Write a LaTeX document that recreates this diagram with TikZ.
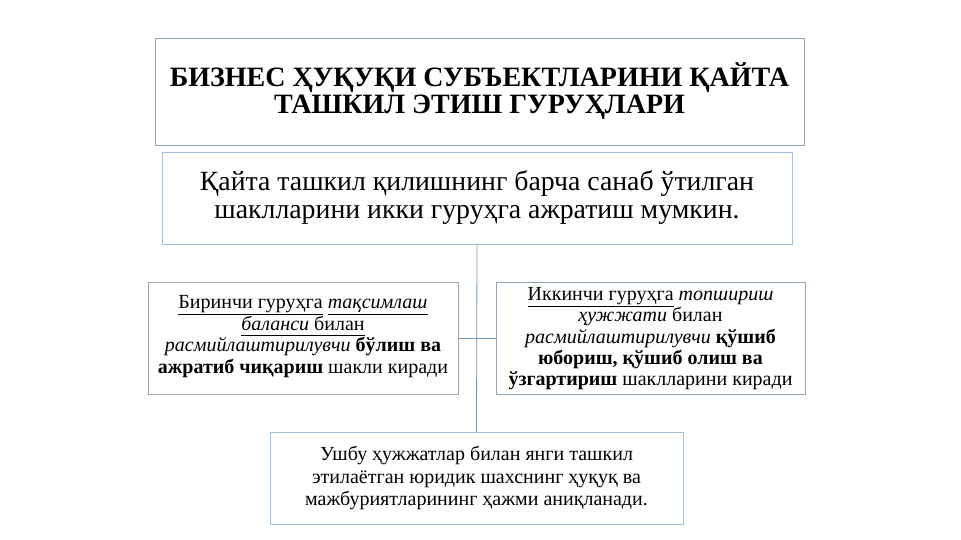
\documentclass[tikz,border=0pt]{standalone}
\usepackage{fontspec}
\setmainfont{Liberation Serif}
\newcommand\myul[1]{\underline{\smash{#1}\rule[-0.2em]{0pt}{0.7em}}}
\definecolor{bordA}{HTML}{8EA4BE}
\definecolor{bordB}{HTML}{9DC3E6}
\definecolor{bordC}{HTML}{A6A6A6}
\definecolor{lineC}{HTML}{7096BC}
\begin{document}
\begin{tikzpicture}[x=1pt,y=-1pt,
  box/.style={draw, line width=0.8pt, rectangle, align=center, inner sep=2pt},
  conn/.style={draw=lineC, line width=0.8pt}]
\useasboundingbox (0,0) rectangle (961,540);
\node[box, draw=bordA, minimum width=649pt, minimum height=107pt,
  font=\fontsize{28}{27}\selectfont\bfseries] (title) at (479.5,91.5)
  {БИЗНЕС ҲУҚУҚИ СУБЪЕКТЛАРИНИ ҚАЙТА\\ТАШКИЛ ЭТИШ ГУРУҲЛАРИ};
\node[box, draw=bordB, minimum width=630pt, minimum height=92pt,
  font=\fontsize{27.8}{28}\selectfont] (sub) at (477,198)
  {Қайта ташкил қилишнинг барча санаб ўтилган\\шаклларини икки гуруҳга ажратиш мумкин.};
\node[box, draw=bordC, minimum width=310pt, minimum height=112pt,
  font=\fontsize{20}{21.5}\selectfont] (left) at (303,338)
  {\myul{Биринчи гуруҳга} \myul{\itshape тақсимлаш}\\
   \myul{\itshape баланси\/ \upshape билан}\\
   {\itshape расмийлаштирилувчи} \textbf{бўлиш ва}\\
   \textbf{ажратиб чиқариш} шакли киради};
\node[box, draw=bordA, minimum width=309pt, minimum height=112pt,
  font=\fontsize{20}{21.3}\selectfont, text depth=0pt] (right) at (650.5,338)
  {\myul{Иккинчи гуруҳга} {\itshape топшириш}\\
   {\itshape ҳужжати} билан\\
   {\itshape расмийлаштирилувчи} \textbf{қўшиб}\\
   \textbf{юбориш, қўшиб олиш ва}\\
   \textbf{ўзгартириш} шаклларини киради};
\node[box, draw=bordB, minimum width=413pt, minimum height=92pt,
  font=\fontsize{20}{22.5}\selectfont] (bottom) at (476.5,478)
  {Ушбу ҳужжатлар билан янги ташкил\\этилаётган юридик шахснинг ҳуқуқ ва\\мажбуриятларининг ҳажми аниқланади.};
\draw[conn] (sub.south) -- (bottom.north);
\draw[conn] (left.east) -- (right.west);
\end{tikzpicture}
\end{document}
